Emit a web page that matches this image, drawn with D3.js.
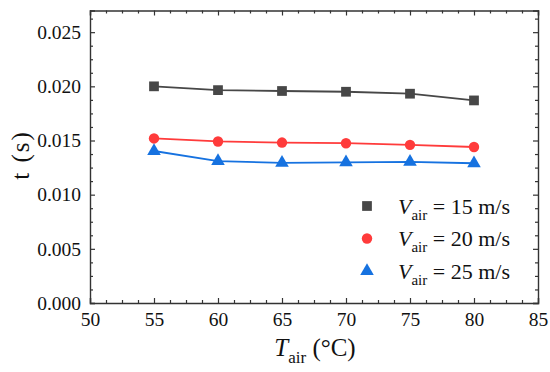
<!DOCTYPE html>
<html>
<head>
<meta charset="utf-8">
<script src="https://cdn.jsdelivr.net/npm/d3@7"></script>
<style>
  html, body { margin: 0; padding: 0; background: #fff; }
  svg, svg text { font-family: "Times New Roman", "Liberation Serif", Tinos, "DejaVu Serif", serif; }
</style>
</head>
<body>
<div id="chart"></div>
<script>
// data
const temps = [55, 60, 65, 70, 75, 80]
const t15 = [0.0200, 0.01965, 0.01957, 0.0195, 0.01932, 0.01870]
const t20 = [0.01519, 0.01491, 0.01481, 0.01475, 0.01460, 0.01440]
const t25 = [0.01403, 0.01309, 0.01293, 0.01299, 0.01303, 0.01290]
const speeds = ['15', '20', '25']
const xTicks = [50, 55, 60, 65, 70, 75, 80, 85]
const yTicks = [0, 0.005, 0.010, 0.015, 0.020, 0.025]

const width = 550, height = 372
const pLeft = 90, pRight = 538, pTop = 10.5, pBottom = 303

const svg = d3.select('#chart').append('svg').attr('width', width).attr('height', height)

const x = d3.scaleLinear().domain([50, 85]).range([pLeft, pRight])
const y = d3.scaleLinear().domain([0, 0.027]).range([pBottom, pTop])

const xMinor = d3.range(50, 85.01, 1.25).filter(v => !xTicks.includes(v))
const yMinor = d3.range(0, 0.0270001, 0.00125).map(v => +v.toFixed(5)).filter(v => !yTicks.some(t => Math.abs(t - v) < 1e-6))

// axes, ticks pointing inward
const addAxis = (axisFn, scale, pos, major, minor, labels) => {
  const g = svg.append('g').attr('transform', pos)
  g.call(axisFn(scale).tickValues(major).tickSize(-5).tickPadding(labels ? 9 : 0)
    .tickFormat(labels ? labels : () => ''))
  g.attr('font-family', null).attr('font-size', 19.5)
  const gm = svg.append('g').attr('transform', pos)
  gm.call(axisFn(scale).tickValues(minor).tickSize(-3).tickFormat(() => ''))
  gm.select('.domain').remove()
  ;[g, gm].forEach(a => {
    a.selectAll('line').attr('stroke', '#333').attr('stroke-width', 1.2)
    a.select('.domain').attr('stroke', '#333').attr('stroke-width', 1.4)
  })
  g.selectAll('text').attr('fill', '#111')
}
addAxis(d3.axisBottom, x, `translate(0,${pBottom})`, xTicks, xMinor, d => d)
addAxis(d3.axisTop, x, `translate(0,${pTop})`, xTicks, xMinor, null)
addAxis(d3.axisLeft, y, `translate(${pLeft},0)`, yTicks, yMinor, d3.format('.3f'))
addAxis(d3.axisRight, y, `translate(${pRight},0)`, yTicks, yMinor, null)

// axis titles
const xt = svg.append('text').attr('x', (pLeft + pRight) / 2 + 1).attr('y', 356)
  .attr('text-anchor', 'middle').attr('font-size', 25).attr('fill', '#111')
xt.append('tspan').attr('font-style', 'italic').text('T')
xt.append('tspan').attr('font-size', 17).attr('dy', 7).text('air')
xt.append('tspan').attr('dy', -7).text(' (°C)')

svg.append('text').attr('transform', 'translate(29,155) rotate(-90)')
  .attr('text-anchor', 'middle').attr('font-size', 25).attr('fill', '#111')
  .attr('letter-spacing', 2).text('t (s)')

// series
const series = [
  { v: t15, color: '#474747', sym: d3.symbolSquare, size: 95 },
  { v: t20, color: '#ff3b3b', sym: d3.symbolCircle, size: 85 },
  { v: t25, color: '#1672e0', sym: d3.symbolTriangle, size: 80 }
]
const line = d3.line().x(d => x(d[0])).y(d => y(d[1]))

series.forEach(s => {
  const pts = temps.map((t, i) => [t, s.v[i]])
  svg.append('path').attr('d', line(pts)).attr('fill', 'none')
    .attr('stroke', s.color).attr('stroke-width', 1.8)
  svg.append('g').selectAll('path').data(pts).enter().append('path')
    .attr('d', d3.symbol().type(s.sym).size(s.size))
    .attr('transform', d => `translate(${x(d[0])},${y(d[1])})`)
    .attr('fill', s.color)
})

// legend
const lg = svg.append('g')
series.forEach((s, i) => {
  const ly = 206 + i * 32.5
  lg.append('path').attr('d', d3.symbol().type(s.sym).size(s.size))
    .attr('transform', `translate(367,${ly})`).attr('fill', s.color)
  const tx = lg.append('text').attr('x', 398).attr('y', ly + 7.5)
    .attr('font-size', 22).attr('fill', '#111')
  tx.append('tspan').attr('font-style', 'italic').text('V')
  tx.append('tspan').attr('font-size', 15).attr('dy', 6).text('air')
  tx.append('tspan').attr('dy', -6).text(` = ${speeds[i]} m/s`)
})
</script>
</body>
</html>
